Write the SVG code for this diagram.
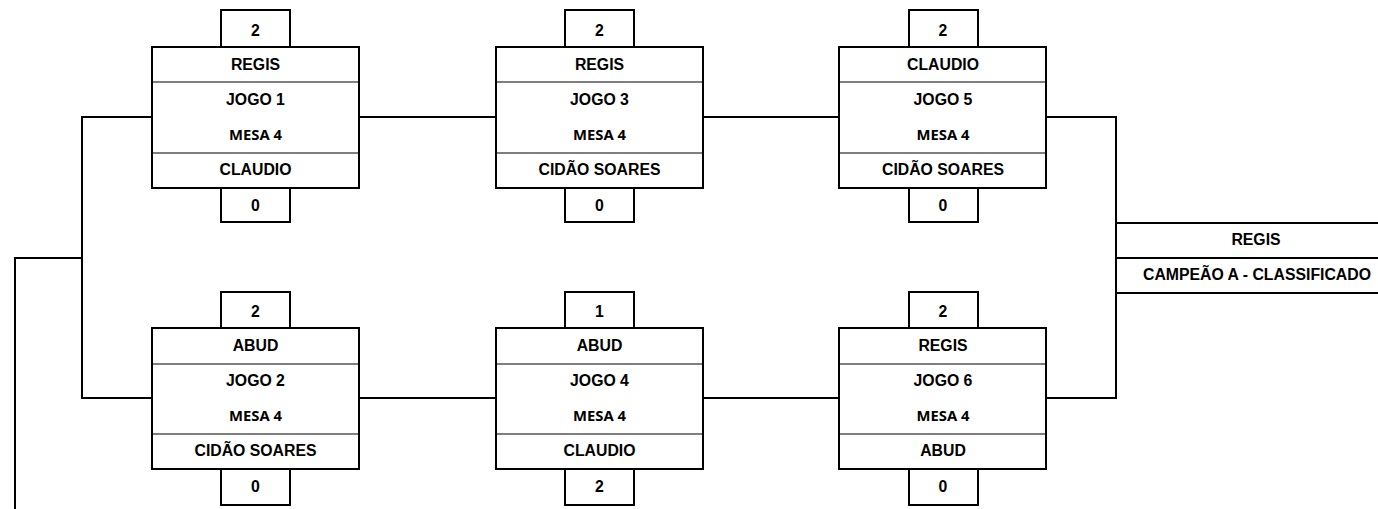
<svg xmlns="http://www.w3.org/2000/svg" width="1378" height="509" viewBox="0 0 1378 509">
<style>
.bg{fill:#fff}
.box{fill:#fff;stroke:#000;stroke-width:2}
.div{stroke:#000;stroke-width:1.2}
.ln{fill:none;stroke:#000;stroke-width:2}
.t{font-family:"Liberation Sans",Arial,sans-serif;font-weight:bold;font-size:15.8px;text-anchor:middle;fill:#000}
.m{font-family:"Noto Sans","Liberation Sans",sans-serif;font-weight:bold;font-size:14.8px;text-anchor:middle;fill:#000}
</style>
<rect class="bg" x="0" y="0" width="1378" height="509"/>
<g id="connectors">
<polyline class="ln" points="152,117 82,117 82,398 152,398"/>
<polyline class="ln" points="82,258 15,258 15,509"/>
<line class="ln" x1="359" y1="117" x2="496" y2="117"/>
<line class="ln" x1="703" y1="117" x2="839" y2="117"/>
<line class="ln" x1="359" y1="398" x2="496" y2="398"/>
<line class="ln" x1="703" y1="398" x2="839" y2="398"/>
<polyline class="ln" points="1046,117 1116,117 1116,398 1046,398"/>
</g>
<g id="jogo1">
<rect class="box" x="221" y="10" width="69" height="37"/>
<rect class="box" x="152" y="47" width="207" height="141"/>
<line class="div" x1="152" y1="82" x2="359" y2="82"/>
<line class="div" x1="152" y1="153" x2="359" y2="153"/>
<rect class="box" x="221" y="188" width="69" height="34"/>
<text class="t" x="255.5" y="36">2</text>
<text class="t" x="255.5" y="69.5">REGIS</text>
<text class="t" x="255.5" y="105">JOGO 1</text>
<text class="m" x="255.5" y="139.5">MESA 4</text>
<text class="t" x="255.5" y="175">CLAUDIO</text>
<text class="t" x="255.5" y="211">0</text>
</g>
<g id="jogo3">
<rect class="box" x="565" y="10" width="69" height="37"/>
<rect class="box" x="496" y="47" width="207" height="141"/>
<line class="div" x1="496" y1="82" x2="703" y2="82"/>
<line class="div" x1="496" y1="153" x2="703" y2="153"/>
<rect class="box" x="565" y="188" width="69" height="34"/>
<text class="t" x="599.5" y="36">2</text>
<text class="t" x="599.5" y="69.5">REGIS</text>
<text class="t" x="599.5" y="105">JOGO 3</text>
<text class="m" x="599.5" y="139.5">MESA 4</text>
<text class="t" x="599.5" y="175">CIDÃO SOARES</text>
<text class="t" x="599.5" y="211">0</text>
</g>
<g id="jogo5">
<rect class="box" x="909" y="10" width="69" height="37"/>
<rect class="box" x="839" y="47" width="207" height="141"/>
<line class="div" x1="839" y1="82" x2="1046" y2="82"/>
<line class="div" x1="839" y1="153" x2="1046" y2="153"/>
<rect class="box" x="909" y="188" width="69" height="34"/>
<text class="t" x="943" y="36">2</text>
<text class="t" x="943" y="69.5">CLAUDIO</text>
<text class="t" x="943" y="105">JOGO 5</text>
<text class="m" x="943" y="139.5">MESA 4</text>
<text class="t" x="943" y="175">CIDÃO SOARES</text>
<text class="t" x="943" y="211">0</text>
</g>
<g id="jogo2">
<rect class="box" x="221" y="292" width="69" height="36"/>
<rect class="box" x="152" y="328" width="207" height="141"/>
<line class="div" x1="152" y1="364" x2="359" y2="364"/>
<line class="div" x1="152" y1="434" x2="359" y2="434"/>
<rect class="box" x="221" y="469" width="69" height="36"/>
<text class="t" x="255.5" y="317">2</text>
<text class="t" x="255.5" y="351">ABUD</text>
<text class="t" x="255.5" y="386">JOGO 2</text>
<text class="m" x="255.5" y="421">MESA 4</text>
<text class="t" x="255.5" y="456">CIDÃO SOARES</text>
<text class="t" x="255.5" y="492">0</text>
</g>
<g id="jogo4">
<rect class="box" x="565" y="292" width="69" height="36"/>
<rect class="box" x="496" y="328" width="207" height="141"/>
<line class="div" x1="496" y1="364" x2="703" y2="364"/>
<line class="div" x1="496" y1="434" x2="703" y2="434"/>
<rect class="box" x="565" y="469" width="69" height="36"/>
<text class="t" x="599.5" y="317">1</text>
<text class="t" x="599.5" y="351">ABUD</text>
<text class="t" x="599.5" y="386">JOGO 4</text>
<text class="m" x="599.5" y="421">MESA 4</text>
<text class="t" x="599.5" y="456">CLAUDIO</text>
<text class="t" x="599.5" y="492">2</text>
</g>
<g id="jogo6">
<rect class="box" x="909" y="292" width="69" height="36"/>
<rect class="box" x="839" y="328" width="207" height="141"/>
<line class="div" x1="839" y1="364" x2="1046" y2="364"/>
<line class="div" x1="839" y1="434" x2="1046" y2="434"/>
<rect class="box" x="909" y="469" width="69" height="36"/>
<text class="t" x="943" y="317">2</text>
<text class="t" x="943" y="351">REGIS</text>
<text class="t" x="943" y="386">JOGO 6</text>
<text class="m" x="943" y="421">MESA 4</text>
<text class="t" x="943" y="456">ABUD</text>
<text class="t" x="943" y="492">0</text>
</g>
<g id="campeao">
<line class="ln" x1="1116" y1="223" x2="1378" y2="223"/>
<line class="ln" x1="1116" y1="258" x2="1378" y2="258"/>
<line class="ln" x1="1116" y1="293" x2="1378" y2="293"/>
<text class="t" x="1256" y="244.5">REGIS</text>
<text class="t" x="1257" y="280">CAMPEÃO A - CLASSIFICADO</text>
</g>
</svg>
